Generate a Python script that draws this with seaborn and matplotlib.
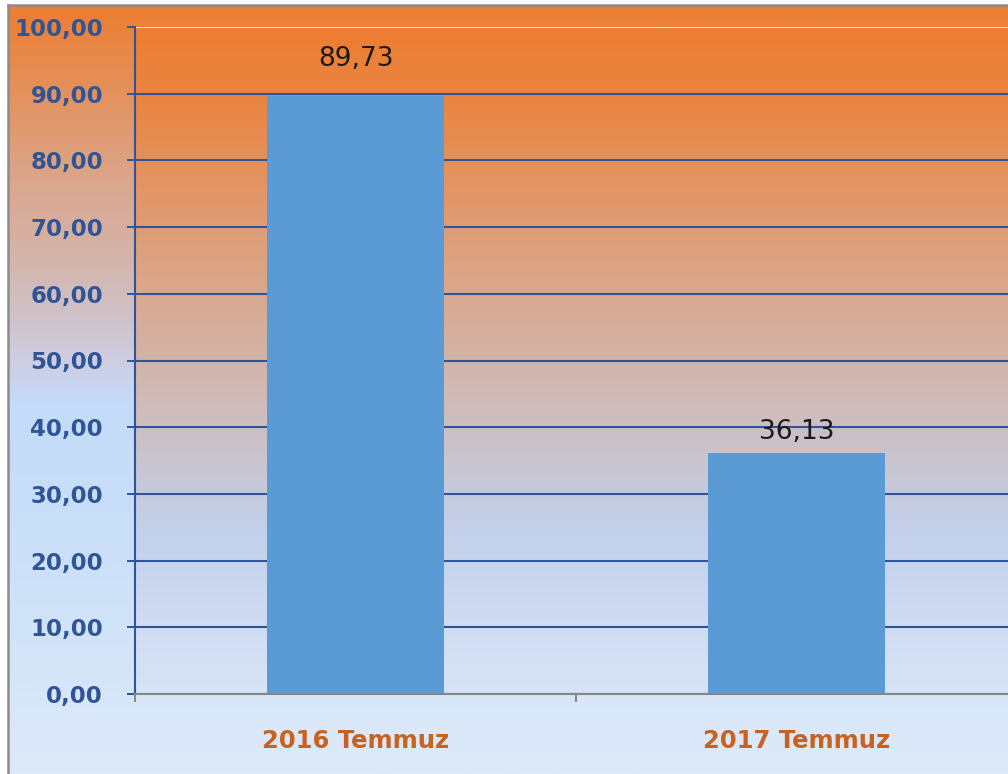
import numpy as np
import seaborn as sns
import matplotlib.pyplot as plt
from matplotlib.colors import LinearSegmentedColormap

# --- data ---
categories = ["2016 Temmuz", "2017 Temmuz"]
values = [89.73, 36.13]
y_ticks = [0, 10, 20, 30, 40, 50, 60, 70, 80, 90, 100]

BLUE_TXT = "#2F5597"
ORANGE_TXT = "#C9621F"
BAR = "#5B9BD5"


def gradient_cmap(stops):
    """stops: list of (fraction_from_top, (r, g, b))"""
    return LinearSegmentedColormap.from_list(
        "g", [(f, tuple(c / 255 for c in rgb)) for f, rgb in stops])


fig_stops = [(0.0, (237, 125, 49)), (0.08, (230, 140, 80)), (0.24, (218, 168, 145)),
             (0.33, (212, 180, 170)), (0.46, (205, 205, 225)), (0.52, (195, 220, 250)),
             (0.75, (205, 225, 248)), (1.0, (222, 234, 250))]
plot_stops = [(0.0, (237, 125, 49)), (0.125, (233, 135, 70)), (0.33, (222, 160, 125)),
              (0.545, (208, 185, 180)), (0.755, (195, 208, 235)), (1.0, (215, 228, 247))]

grad = np.linspace(0, 1, 512).reshape(-1, 1)

fig = plt.figure(figsize=(10.08, 7.74), dpi=100, facecolor="white")

# chart area background (gradient + grey frame)
bg = fig.add_axes([8 / 1008, 0, 1, 1 - 5 / 774], zorder=-1)
bg.imshow(grad, aspect="auto", cmap=gradient_cmap(fig_stops), extent=[0, 1, 0, 1])
bg.set_xlim(0, 1)
bg.set_ylim(0, 1)
bg.set_xticks([])
bg.set_yticks([])
for side in ["right", "bottom"]:
    bg.spines[side].set_visible(False)
for side in ["left", "top"]:
    bg.spines[side].set_color("#8C8C8C")
    bg.spines[side].set_linewidth(1.8)

# plot area
ax = fig.add_axes([135 / 1008, 1 - 694 / 774, 882 / 1008, 667 / 774])
ax.imshow(grad, aspect="auto", cmap=gradient_cmap(plot_stops), extent=[0, 1, 0, 1],
          transform=ax.transAxes, zorder=0)

sns.barplot(x=categories, y=values, color=BAR, saturation=1, width=0.4,
            linewidth=0, ax=ax, zorder=2)

ax.set_xlim(-0.5, 1.5)
ax.set_ylim(0, 100)
ax.set_xlabel("")
ax.set_ylabel("")

# y axis
ax.set_yticks(y_ticks)
ax.set_yticklabels([f"{t:.2f}".replace(".", ",") for t in y_ticks],
                   color=BLUE_TXT, fontsize=16.5, fontweight="bold")
ax.tick_params(axis="y", length=6, width=1.4, color=BLUE_TXT, pad=17)
ax.set_axisbelow(True)
ax.yaxis.grid(True, color=BLUE_TXT, linewidth=1.5)
ax.get_ygridlines()[-1].set_color("#F2E4DA")

# x axis
ax.tick_params(axis="x", which="major", length=0, pad=25)
for lab in ax.get_xticklabels():
    lab.set_color(ORANGE_TXT)
    lab.set_fontsize(17.5)
    lab.set_fontweight("bold")
ax.set_xticks([-0.5, 0.5, 1.5], minor=True)
ax.tick_params(axis="x", which="minor", length=6, width=1.4, color="#868686")

for side in ["right", "top"]:
    ax.spines[side].set_visible(False)
ax.spines["left"].set_color(BLUE_TXT)
ax.spines["left"].set_linewidth(1.5)
ax.spines["bottom"].set_color("#868686")
ax.spines["bottom"].set_linewidth(1.5)

# value labels
label_offsets = [37, 21]
for i, (v, off) in enumerate(zip(values, label_offsets)):
    ax.annotate(f"{v:.2f}".replace(".", ","), (i, v), xytext=(0, off),
                textcoords="offset pixels", ha="center", va="center",
                fontsize=19, color="#1A1A1A", zorder=3)

fig.savefig("out.png", dpi=100, facecolor=fig.get_facecolor())
